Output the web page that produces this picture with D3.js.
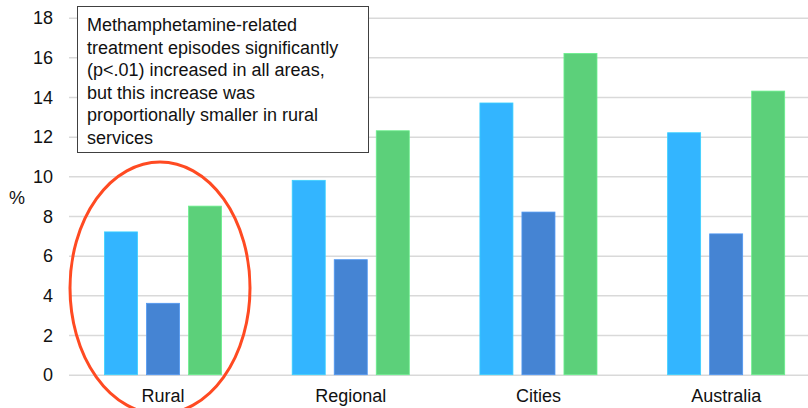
<!DOCTYPE html>
<html><head><meta charset="utf-8">
<script src="https://cdn.jsdelivr.net/npm/d3@7"></script>
<style>body{margin:0;background:#fff}svg{display:block;font-family:"Liberation Sans",Arial,sans-serif}</style>
</head><body>
<svg id="c" width="808" height="408"></svg>
<script>
const categories = ["Rural", "Regional", "Cities", "Australia"];
const seriesNames = ["s1", "s2", "s3"];
const series1 = [7.2, 9.8, 13.7, 12.2];
const series2 = [3.6, 5.8, 8.2, 7.1];
const series3 = [8.5, 12.3, 16.2, 14.3];
const yTicks = [0, 2, 4, 6, 8, 10, 12, 14, 16, 18];
const annotation = ["Methamphetamine-related", "treatment episodes significantly", "(p<.01) increased in all areas,", "but this increase was", "proportionally smaller in rural", "services"];
const colors = ["#33B5FF", "#4584D3", "#5CD07A"];
const FONT = "Liberation Sans, Arial, sans-serif";

const svg = d3.select("#c");
const x0 = d3.scaleBand().domain(categories).range([69.2, 820]).paddingInner(0).paddingOuter(0);
const y = d3.scaleLinear().domain([0, 18]).range([374.7, 17.7]);
const x1 = d3.scaleBand().domain(seriesNames).range([0, x0.bandwidth()]).paddingInner(0.214).paddingOuter(0.84);

// gridlines + y labels
const yAxis = d3.axisLeft(y).tickValues(yTicks).tickSize(0).tickPadding(16);
const g = svg.append("g").attr("transform", "translate(69,0)").call(yAxis);
g.select(".domain").remove();
g.selectAll(".tick line").remove();
g.selectAll(".tick").append("line").attr("x1", 0).attr("x2", 808 - 69).attr("stroke", "#d9d9d9").attr("stroke-width", 1.5);
g.selectAll(".tick text").attr("font-size", 18).attr("fill", "#111").attr("font-family", FONT).attr("dy", "0.34em");

const data = categories.map((c, i) => ({c, v: [series1[i], series2[i], series3[i]]}));
const groups = svg.append("g").selectAll("g").data(data).join("g").attr("transform", d => `translate(${x0(d.c)},0)`);
groups.selectAll("rect").data(d => d.v.map((v, j) => ({v, s: seriesNames[j], j}))).join("rect")
  .attr("x", d => x1(d.s)).attr("width", x1.bandwidth())
  .attr("y", d => y(d.v)).attr("height", d => y(0) - y(d.v))
  .attr("fill", d => colors[d.j])
  .attr("stroke", d => d3.color(colors[d.j]).brighter(0.4)).attr("stroke-width", 0.8);

// x axis labels
const xAxis = d3.axisBottom(x0).tickSize(0).tickPadding(15);
const gx = svg.append("g").attr("transform", `translate(0,${y(0)})`).call(xAxis);
gx.select(".domain").remove();
gx.selectAll(".tick text").attr("font-size", 18).attr("fill", "#111").attr("font-family", FONT);

// % label
svg.append("text").attr("x", 17).attr("y", 204).attr("text-anchor", "middle").attr("font-size", 18).attr("fill", "#111").text("%");

// annotation box
svg.append("rect").attr("x", 77.5).attr("y", 6.5).attr("width", 291).attr("height", 146).attr("fill", "#fff").attr("stroke", "#404040").attr("stroke-width", 1);
svg.append("g").selectAll("text").data(annotation).join("text")
  .attr("x", 87).attr("y", (d, i) => 31 + i * 22.6).attr("font-size", 18).attr("fill", "#111").text(d => d);

// ellipse
svg.append("ellipse").attr("cx", 160).attr("cy", 288).attr("rx", 90).attr("ry", 126)
  .attr("fill", "none").attr("stroke", "#FF4A22").attr("stroke-width", 3);
</script>
</body></html>
